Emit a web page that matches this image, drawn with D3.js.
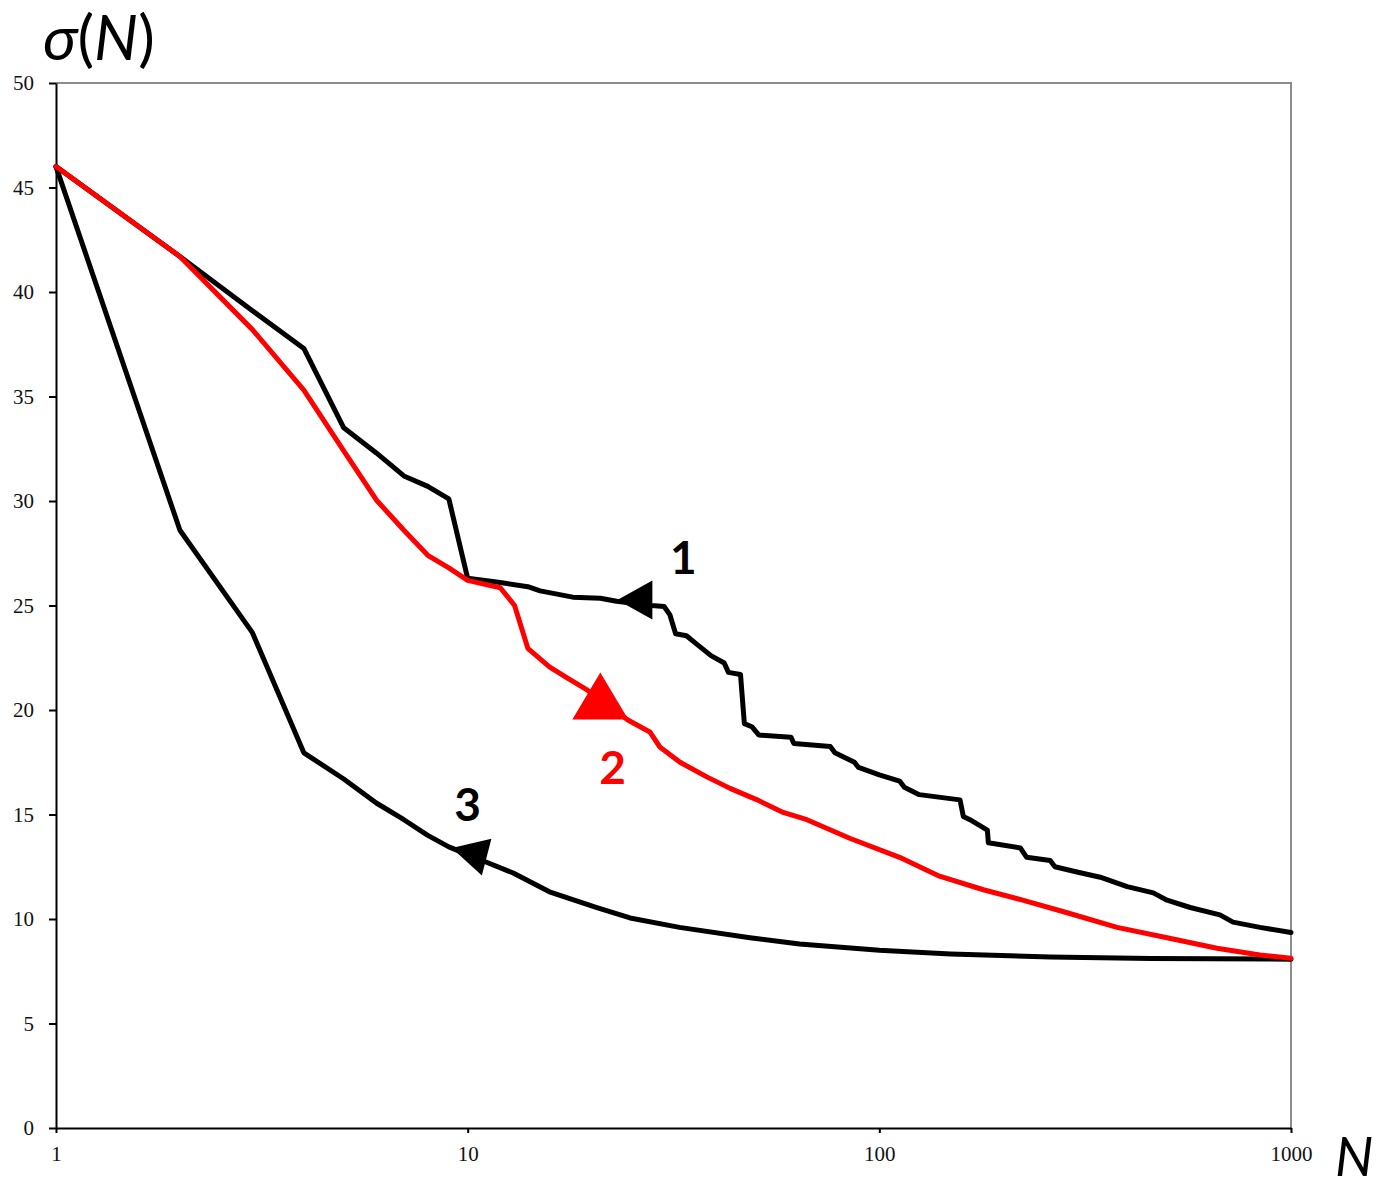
<!DOCTYPE html>
<html>
<head>
<meta charset="utf-8">
<script src="https://cdnjs.cloudflare.com/ajax/libs/d3/7.8.5/d3.min.js"></script>
<style>
  html, body { margin: 0; padding: 0; background: #fff; }
  svg { display: block; }
</style>
</head>
<body>
<div id="chart"></div>
<script>
/* -----------------    DATA     ------------------ */

// curve 1 (black, upper stepped)
const n1 = [1, 2, 3, 4, 5, 6, 7, 8, 9, 10, 12, 14, 15, 18, 21, 23, 28, 30, 31, 32, 34, 36, 39, 42, 43, 46, 47,
  49, 51, 61, 62, 76, 78, 87, 89, 100, 112, 115, 125, 157, 160, 166, 183, 184, 220, 228, 260, 267,
  302, 344, 400, 463, 500, 569, 672, 723, 841, 1000];
const sigma1 = [46.0, 41.7, 39.1, 37.3, 33.5, 32.3, 31.2, 30.7, 30.1, 26.3, 26.1, 25.9, 25.7, 25.4, 25.35, 25.2,
  25.0, 24.95, 24.55, 23.65, 23.55, 23.15, 22.6, 22.25, 21.8, 21.7, 19.35, 19.2, 18.8, 18.7, 18.4,
  18.25, 17.95, 17.5, 17.25, 16.9, 16.6, 16.3, 15.95, 15.7, 14.9, 14.75, 14.25, 13.65, 13.4, 12.95,
  12.8, 12.5, 12.25, 12.0, 11.55, 11.25, 10.9, 10.55, 10.2, 9.85, 9.6, 9.35];

// curve 2 (red, middle)
const n2 = [1, 2, 3, 4, 5, 6, 7, 8, 9, 10, 12, 13, 14, 15.8, 17.4, 19.5, 24.5, 27.7, 29.3, 32.8, 38.1,
  43.4, 50.5, 58.4, 66.7, 85, 112, 140, 179, 223, 286, 378, 500, 661, 841, 1000];
const sigma2 = [46.0, 41.7, 38.2, 35.3, 32.4, 30.05, 28.6, 27.4, 26.8, 26.2, 25.85, 25.0, 22.95, 22.06, 21.55,
  20.96, 19.52, 18.95, 18.23, 17.5, 16.8, 16.25, 15.7, 15.1, 14.75, 13.85, 12.95, 12.05, 11.4, 10.9, 10.3,
  9.6, 9.1, 8.6, 8.28, 8.12];

// curve 3 (black, lower)
const n3 = [1, 2, 3, 4, 5, 6, 7, 8, 9, 11, 12.9, 15.8, 20.6, 24.8, 32.7, 48.5, 64, 100, 149, 260, 457, 1000];
const sigma3 = [46.0, 28.6, 23.7, 17.95, 16.7, 15.55, 14.75, 14.0, 13.45, 12.75, 12.2, 11.3, 10.55, 10.05,
  9.6, 9.1, 8.8, 8.5, 8.33, 8.18, 8.11, 8.08];

// axis ticks
const xTicks = [1, 10, 100, 1000];
const yTicks = [0, 5, 10, 15, 20, 25, 30, 35, 40, 45, 50];

// curve labels and arrowhead tips (data coords)
const curveNames = ['1', '2', '3'];
const labelN = [33.4, 22.5, 10.0];
const labelSigma = [27.3, 17.25, 15.5];
const arrowN = [23.1, 21.0, 9.15];
const arrowSigma = [25.26, 21.8, 13.4];

/* -----------------    SETTINGS     ------------------ */
const settings = {
  width: 1390,
  height: 1189,
  left: 56,
  right: 1291,
  top: 83,
  bottom: 1128,
  black: '#000000',
  red: '#ff0000',
  frame: '#8c8c8c'
};

// arrow direction (degrees, 0 = pointing right), length and half-width in px
const arrowAngle = [180, -90, 194.6];
const arrowLen = [35, 47, 36];
const arrowHalf = [19.5, 28, 19];
const curveColors = [settings.black, settings.red, settings.black];

/* -----------------    DRAW     ------------------ */
const svg = d3.select('#chart')
  .append('svg')
  .attr('width', settings.width)
  .attr('height', settings.height);

const xScale = d3.scaleLog()
  .domain([1, 1000])
  .range([settings.left, settings.right]);

const yScale = d3.scaleLinear()
  .domain([0, 50])
  .range([settings.bottom, settings.top]);

// frame (top and right)
svg.append('path')
  .attr('d', `M${settings.left},${settings.top}H${settings.right}V${settings.bottom}`)
  .attr('fill', 'none')
  .attr('stroke', settings.frame)
  .attr('stroke-width', 2);

// axes
const yAxis = d3.axisLeft(yScale)
  .tickValues(yTicks)
  .tickSizeInner(7)
  .tickSizeOuter(0)
  .tickPadding(15)
  .tickFormat(d3.format('d'));

const xAxis = d3.axisBottom(xScale)
  .tickValues(xTicks)
  .tickSizeInner(5)
  .tickSizeOuter(0)
  .tickPadding(13)
  .tickFormat(d3.format('d'));

const gy = svg.append('g')
  .attr('transform', `translate(${settings.left},0)`)
  .call(yAxis);

const gx = svg.append('g')
  .attr('transform', `translate(0,${settings.bottom})`)
  .call(xAxis);

[gx, gy].forEach(g => {
  g.attr('font-size', 21).attr('font-family', '"Liberation Serif", "Times New Roman", serif');
  g.selectAll('path.domain, line').attr('stroke', '#000').attr('stroke-width', 2);
  g.selectAll('text').attr('fill', '#111');
});

// curves
const line = d3.line()
  .x(d => xScale(d[0]))
  .y(d => yScale(d[1]));

const curves = [
  d3.zip(n1, sigma1),
  d3.zip(n3, sigma3),
  d3.zip(n2, sigma2)
];
const curveStroke = [settings.black, settings.black, settings.red];

svg.append('g')
  .selectAll('path')
  .data(curves)
  .enter()
  .append('path')
  .attr('d', line)
  .attr('fill', 'none')
  .attr('stroke', (d, i) => curveStroke[i])
  .attr('stroke-width', 5)
  .attr('stroke-linejoin', 'round')
  .attr('stroke-linecap', 'round');

// arrowheads
svg.append('g')
  .selectAll('path')
  .data(curveNames)
  .enter()
  .append('path')
  .attr('d', (d, i) => `M0,0L${-arrowLen[i]},${-arrowHalf[i]}L${-arrowLen[i]},${arrowHalf[i]}Z`)
  .attr('transform', (d, i) =>
    `translate(${xScale(arrowN[i])},${yScale(arrowSigma[i])}) rotate(${arrowAngle[i]})`)
  .attr('fill', (d, i) => curveColors[i]);

// curve labels
svg.append('g')
  .selectAll('text')
  .data(curveNames)
  .enter()
  .append('text')
  .attr('x', (d, i) => xScale(labelN[i]))
  .attr('y', (d, i) => yScale(labelSigma[i]))
  .attr('dy', '0.36em')
  .attr('text-anchor', 'middle')
  .attr('fill', (d, i) => curveColors[i])
  .style('font-family', 'Lato, "Open Sans", sans-serif')
  .style('font-weight', 'bold')
  .style('font-size', '46px')
  .text(d => d);

// axis titles
svg.append('text')
  .attr('x', 43)
  .attr('y', 60)
  .style('font-family', 'Lato, "Open Sans", sans-serif')
  .style('font-size', '62px')
  .attr('fill', '#000')
  .html('<tspan font-style="italic">σ</tspan>(<tspan font-style="italic">N</tspan>)');

svg.append('text')
  .attr('x', 1335)
  .attr('y', 1176)
  .style('font-family', 'Lato, "Open Sans", sans-serif')
  .style('font-size', '54px')
  .style('font-style', 'italic')
  .attr('fill', '#000')
  .text('N');
</script>
</body>
</html>
